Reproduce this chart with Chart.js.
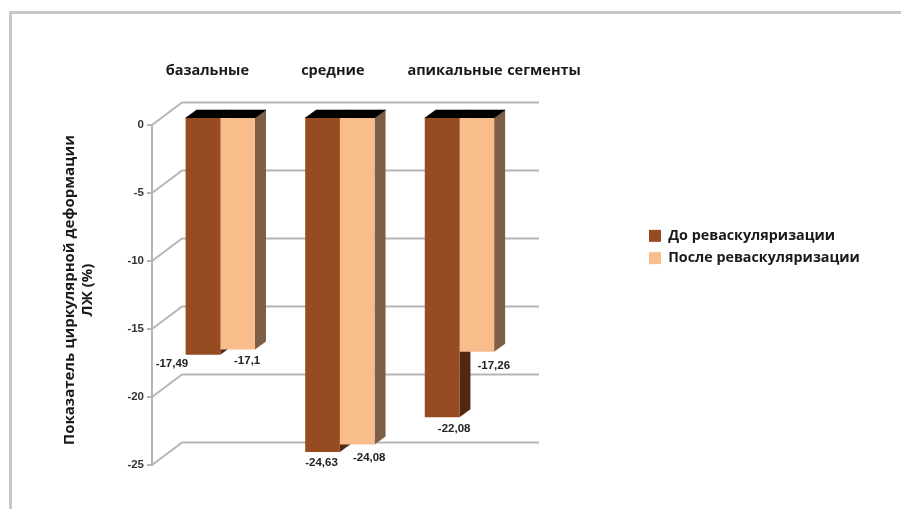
<!DOCTYPE html>
<html>
<head>
<meta charset="utf-8">
<title>Деформация ЛЖ</title>
<script src="https://cdn.jsdelivr.net/npm/chart.js@4"></script>
<style>
    html, body { margin: 0; padding: 0; background: #fff; overflow: hidden; }
    #wrap { position: relative; width: 901px; height: 509px; }
    #frame { position: absolute; left: 9px; top: 11px; right: 0; bottom: 0; border-left: 3px solid #c8c8c8; border-top: 3px solid #c8c8c8; }
    #chart { position: absolute; left: 0; top: 0; }
</style>
</head>
<body>
<div id="wrap">
    <div id="frame"></div>
    <canvas id="chart" width="901" height="509"></canvas>
</div>
<script>
// Данные
const segments = ['базальные', 'средние', 'апикальные'];
const extraLabel = 'сегменты';
const beforeLabel = 'До реваскуляризации';
const afterLabel = 'После реваскуляризации';
const beforeValues = [-17.49, -24.63, -22.08];
const afterValues = [-17.1, -24.08, -17.26];
const axisTitle = ['Показатель циркулярной деформации', 'ЛЖ (%)'];

const textFont = '"Open Sans", sans-serif';
const smallFont = 'bold 11.5px "Liberation Sans", sans-serif';
const gridColor = '#b5b5b5';

// Смещения псевдо-3D
const barShift = { x: 8.5, y: -8 };
const wallShift = { x: 30, y: -22.5 };
const barDepth = { x: 11, y: -8 };
const wallWidth = 357;

// Сдвиг подписей относительно низа столбца (по набору данных, затем по сегменту)
const labelNudge = [
    [[-31, 9], [-1, 11], [12, 12]],
    [[9.5, 11], [12, 13], [17, 14]]
];
const sideColors = ['#4f2a10', '#7e5f45'];

const fake3d = {
    id: 'fake3d',
    afterLayout(chart) {
        // легенда стоит отдельно от области графика
        const legend = chart.legend;
        const h = legend.height;
        legend.left = 641;
        legend.right = 901;
        legend.top = 247 - h / 2;
        legend.bottom = legend.top + h;
    },
    beforeDatasetsDraw(chart) {
        const { ctx } = chart;
        const yScale = chart.scales.y;
        const x0 = chart.chartArea.left;

        // стенка: диагонали от оси и линии сетки
        ctx.save();
        ctx.strokeStyle = gridColor;
        ctx.lineWidth = 2;
        for (const tick of yScale.ticks) {
            const y = yScale.getPixelForValue(tick.value);
            ctx.beginPath();
            ctx.moveTo(x0, y);
            ctx.lineTo(x0 + wallShift.x, y + wallShift.y);
            ctx.lineTo(x0 + wallShift.x + wallWidth, y + wallShift.y);
            ctx.stroke();
        }
        ctx.restore();

        ctx.save();
        ctx.translate(barShift.x, barShift.y);
        chart.data.datasets.forEach((ds, d) => {
            chart.getDatasetMeta(d).data.forEach(bar => {
                const half = bar.width / 2;
                const left = bar.x - half, right = bar.x + half;
                const top = bar.base, bottom = bar.y;
                // боковая грань
                ctx.fillStyle = sideColors[d];
                ctx.beginPath();
                ctx.moveTo(right, top);
                ctx.lineTo(right + barDepth.x, top + barDepth.y);
                ctx.lineTo(right + barDepth.x, bottom + barDepth.y);
                ctx.lineTo(right, bottom);
                ctx.closePath();
                ctx.fill();
                // верхняя грань
                ctx.fillStyle = '#000';
                ctx.strokeStyle = '#000';
                ctx.lineWidth = 0.6;
                ctx.beginPath();
                ctx.moveTo(left, top);
                ctx.lineTo(left + barDepth.x, top + barDepth.y);
                ctx.lineTo(right + barDepth.x, top + barDepth.y);
                ctx.lineTo(right, top);
                ctx.closePath();
                ctx.fill();
                ctx.stroke();
            });
        });
    },
    afterDatasetsDraw(chart) {
        const { ctx } = chart;
        ctx.restore();

        // подписи значений
        ctx.save();
        ctx.font = smallFont;
        ctx.fillStyle = '#222';
        ctx.textAlign = 'center';
        ctx.textBaseline = 'middle';
        chart.data.datasets.forEach((ds, d) => {
            chart.getDatasetMeta(d).data.forEach((bar, i) => {
                const text = String(ds.data[i]).replace('.', ',');
                const n = labelNudge[d][i];
                ctx.fillText(text, bar.x + barShift.x + n[0], bar.y + barShift.y + n[1]);
            });
        });

        // подписи сегментов над графиком
        const xScale = chart.scales.x;
        ctx.font = 'bold 14.5px ' + textFont;
        ctx.fillStyle = '#1a1a1a';
        const topShift = [-4.5, 1.5, 4];
        segments.forEach((name, i) => {
            ctx.fillText(name, xScale.getPixelForValue(i) + topShift[i], 71);
        });
        ctx.fillText(extraLabel, 544, 71);

        // подпись оси
        ctx.font = 'bold 15px ' + textFont;
        axisTitle.forEach((line, i) => {
            ctx.save();
            ctx.translate(70 + i * 18, 290);
            ctx.rotate(-Math.PI / 2);
            ctx.fillText(line, 0, 0);
            ctx.restore();
        });
        ctx.restore();
    }
};

const ctx = document.getElementById('chart').getContext('2d');
new Chart(ctx, {
    type: 'bar',
    data: {
        labels: segments,
        datasets: [
            { label: beforeLabel, data: beforeValues, backgroundColor: '#974b20' },
            { label: afterLabel, data: afterValues, backgroundColor: '#f9bd8c' }
        ]
    },
    options: {
        responsive: false,
        animation: false,
        layout: { padding: { left: 0, top: 125, bottom: 44, right: 220 } },
        datasets: { bar: { categoryPercentage: 0.58, barPercentage: 1 } },
        scales: {
            x: { display: false },
            y: {
                min: -25,
                max: 0,
                afterFit(scale) { scale.width = 152; },
                border: { color: gridColor, width: 2 },
                grid: { drawOnChartArea: false, color: gridColor, lineWidth: 2, tickLength: 5 },
                ticks: { stepSize: 5, color: '#333', font: { family: 'Liberation Sans', size: 11.5, weight: 'bold' }, padding: 3 }
            }
        },
        plugins: {
            tooltip: { enabled: false },
            legend: {
                position: 'right',
                labels: {
                    boxWidth: 12,
                    boxHeight: 12,
                    padding: 8,
                    color: '#1a1a1a',
                    font: { family: 'Open Sans', size: 14.3, weight: 'bold' }
                }
            }
        }
    },
    plugins: [fake3d]
});
</script>
</body>
</html>
